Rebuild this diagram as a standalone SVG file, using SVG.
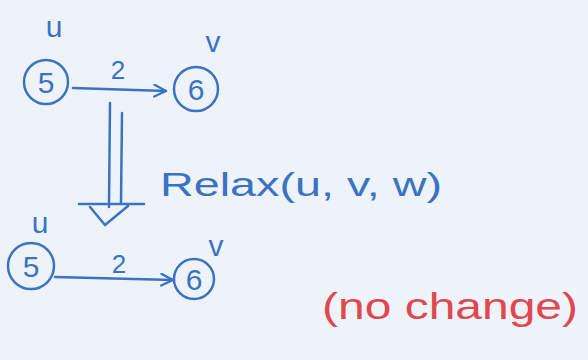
<svg xmlns="http://www.w3.org/2000/svg" width="588" height="360" viewBox="0 0 588 360">
<defs>
<style>
.bg{fill:#eef3fa}
.node circle{fill:none;stroke:#3b73c2;stroke-width:2.5}
.t{font-family:"Liberation Sans",Arial,sans-serif;fill:#3b73c2}
.num{font-size:30px;text-anchor:middle}
.lab{font-size:30px;text-anchor:middle}
.edge{fill:none;stroke:#3b73c2;stroke-width:2.5;stroke-linecap:round;stroke-linejoin:round}
.red{font-family:"Liberation Sans",Arial,sans-serif;fill:#e0474f}
</style>
<marker id="ah" viewBox="0 0 12 12" refX="11" refY="6" markerWidth="14" markerHeight="14" markerUnits="userSpaceOnUse" orient="auto">
<path d="M1,1 L11,6 L1,11" fill="none" stroke="#3b73c2" stroke-width="2" stroke-linecap="round" stroke-linejoin="round"/>
</marker>
</defs>
<rect class="bg" x="0" y="0" width="588" height="360"/>
<g id="u1" class="node"><circle cx="46" cy="82" r="22"/><text class="t num" x="46" y="93">5</text><text class="t lab" x="54" y="37">u</text></g>
<g id="v1" class="node"><circle cx="196" cy="89" r="22"/><text class="t num" x="196" y="100">6</text><text class="t lab" x="213" y="52">v</text></g>
<g id="u2" class="node"><circle cx="31" cy="266" r="23"/><text class="t num" x="31" y="277">5</text><text class="t lab" x="40" y="233">u</text></g>
<g id="v2" class="node"><circle cx="194" cy="279" r="20"/><text class="t num" x="194" y="290">6</text><text class="t lab" x="216" y="256">v</text></g>
<g id="connectors">
<path class="edge" d="M73,88 L166,91" marker-end="url(#ah)"/>
<text class="t num" x="118" y="79" style="font-size:26px">2</text>
<path class="edge" d="M55,277 L173,280" marker-end="url(#ah)"/>
<text class="t num" x="119" y="273" style="font-size:26px">2</text>
<path class="edge" d="M110,103 L109,207 M122,113 L121,203 M79,204 L144,204 M90,207 L105,225 L128,206"/>
</g>
<text class="t" x="160" y="196" font-size="34" textLength="282" lengthAdjust="spacingAndGlyphs">Relax(u, v, w)</text>
<text class="red" x="322" y="319" font-size="36" textLength="256" lengthAdjust="spacingAndGlyphs">(no change)</text>
</svg>
